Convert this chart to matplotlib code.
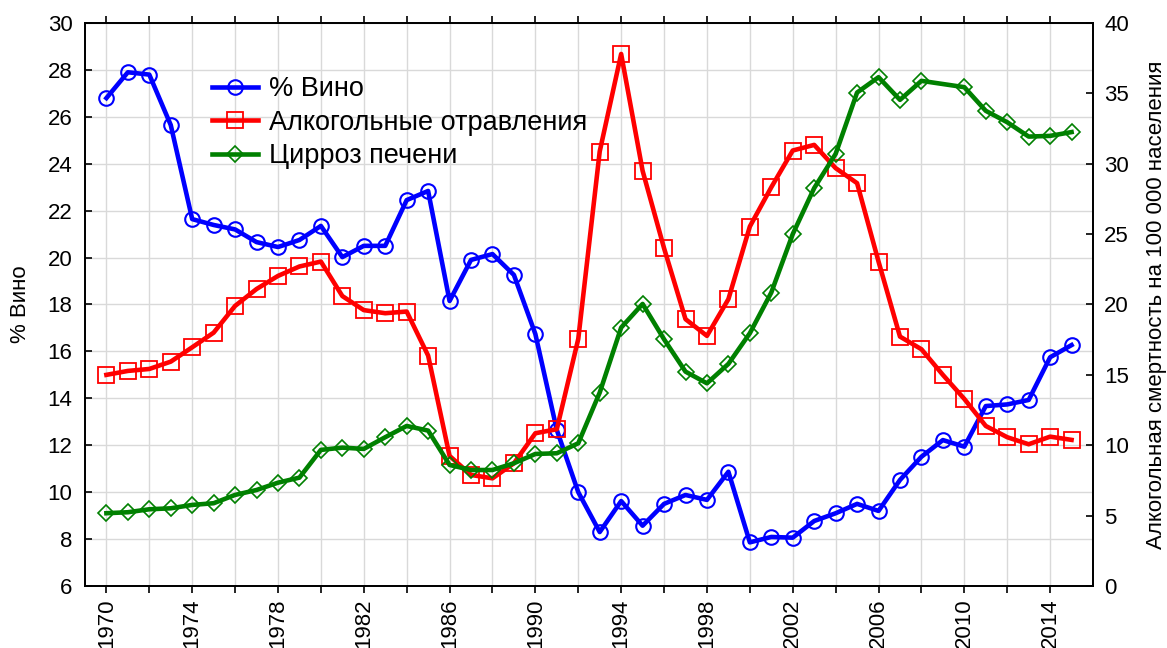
import numpy as np
import matplotlib
matplotlib.use("Agg")
import matplotlib.pyplot as plt

plt.rcParams['font.family'] = ['Liberation Sans', 'DejaVu Sans']

# ---- data ----
years = list(range(1970, 2016))

wine = [26.8, 27.9, 27.8, 25.65, 21.64, 21.39, 21.2, 20.66, 20.45, 20.75,
        21.35, 20.02, 20.5, 20.5, 22.45, 22.84, 18.15, 19.9, 20.15, 19.26,
        16.74, 12.65, 10.0, 8.3, 9.62, 8.57, 9.5, 9.88, 9.67, 10.87,
        7.86, 8.09, 8.06, 8.77, 9.1, 9.5, 9.2, 10.52, 11.51, 12.22,
        11.94, 13.67, 13.74, 13.93, 15.75, 16.27]

poisoning = [15.0, 15.28, 15.42, 15.94, 16.96, 18.0, 19.9, 21.1, 22.03, 22.7,
             23.05, 20.6, 19.6, 19.38, 19.5, 16.37, 9.24, 7.89, 7.65, 8.72,
             10.85, 11.14, 17.55, 30.87, 37.8, 29.5, 24.0, 18.96, 17.77, 20.38,
             25.54, 28.33, 30.94, 31.34, 29.69, 28.62, 23.05, 17.72, 16.82, 15.0,
             13.29, 11.37, 10.57, 10.07, 10.61, 10.38]

# no value for 2009 in the cirrhosis series
cirrhosis_years = [y for y in years if y != 2009]
cirrhosis = [5.17, 5.24, 5.45, 5.52, 5.76, 5.88, 6.47, 6.82, 7.34, 7.7,
             9.67, 9.83, 9.74, 10.57, 11.37, 11.04, 8.6, 8.24, 8.24, 8.72,
             9.38, 9.43, 10.14, 13.74, 18.36, 20.04, 17.53, 15.23, 14.4, 15.78,
             17.96, 20.85, 25.0, 28.27, 30.7, 35.06, 36.15, 34.54, 35.89,
             35.44, 33.76, 32.95, 31.93, 31.98, 32.25]

labels = ['% Вино', 'Алкогольные отравления', 'Цирроз печени']

# ---- figure ----
fig = plt.figure(figsize=(11.67, 6.48), dpi=100)
ax = fig.add_axes([0.0728, 0.0957, 0.8638, 0.8688])
ax2 = ax.twinx()

l1, = ax.plot(years, wine, color='#0000ff', lw=3.3, marker='o', ms=10.5,
              mfc='none', mec='#0000ff', mew=1.5)
l2, = ax2.plot(years, poisoning, color='#ff0000', lw=3.3, marker='s', ms=11,
               mfc='none', mec='#ff0000', mew=1.3)
l3, = ax2.plot(cirrhosis_years, cirrhosis, color='#008000', lw=3.3, marker='D',
               ms=8, mfc='none', mec='#008000', mew=1.2)

ax.set_xlim(1969, 2016)
ax.set_ylim(6, 30)
ax2.set_ylim(0, 40)

ax.set_yticks(np.arange(6, 31, 2))
ax2.set_yticks(np.arange(0, 41, 5))
ax.set_xticks(np.arange(1970, 2015, 2))
ax.set_xticklabels([str(y) if (y - 1970) % 4 == 0 else '' for y in range(1970, 2015, 2)],
                   rotation=90)

ax.grid(True, color='#d9d9d9', lw=1)
ax.set_axisbelow(True)

ax.tick_params(axis='x', direction='out', length=5, width=1.2, labelsize=16, pad=4, top=True)
ax.tick_params(axis='y', direction='in', length=5, width=1.2, labelsize=16, pad=9)
ax2.tick_params(axis='y', direction='in', length=5, width=1.2, labelsize=16, pad=8)
for a in (ax, ax2):
    for s in a.spines.values():
        s.set_linewidth(1.3)

ax.set_ylabel('% Вино', fontsize=16, labelpad=12)
ax2.set_ylabel('Алкогольная смертность на 100 000 населения', fontsize=16, labelpad=12)

ax2.legend([l1, l2, l3], labels, loc='upper left', bbox_to_anchor=(0.115, 0.925),
           frameon=False, fontsize=19.5, handlelength=1.7, handletextpad=0.4,
           labelspacing=0.28, borderaxespad=0)

fig.savefig('out.png', dpi=100)
